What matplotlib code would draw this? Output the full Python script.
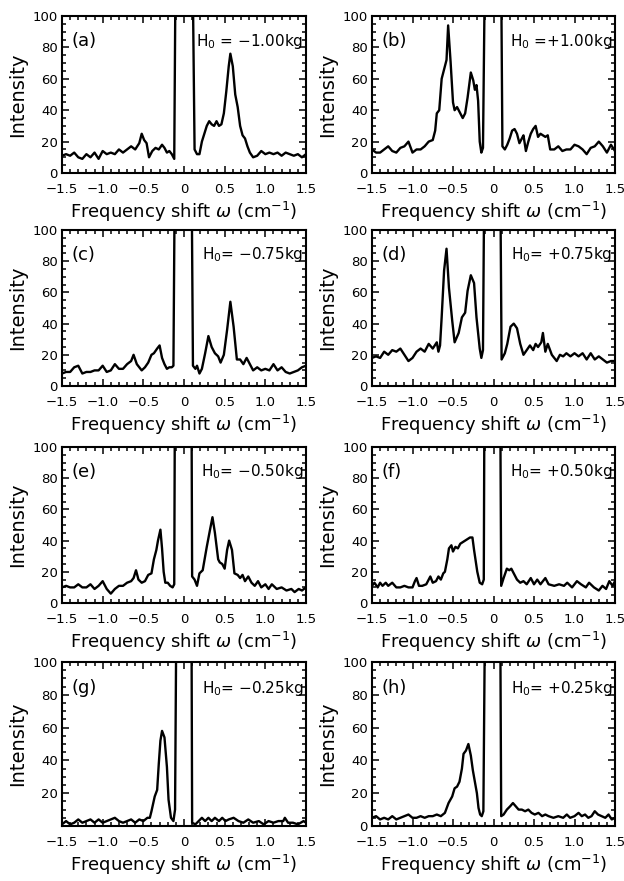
import matplotlib

matplotlib.use("Agg")
import matplotlib.pyplot as plt
from matplotlib.ticker import MultipleLocator

# frequency shift (cm^-1) and intensity; 160 marks the off-scale laser line
x_a = [-1.5, -1.45, -1.4, -1.35, -1.3, -1.25, -1.2, -1.15, -1.1, -1.05, -1.0, -0.95, -0.9, -0.85, -0.8,
       -0.75, -0.7, -0.65, -0.6, -0.55, -0.52, -0.49, -0.46, -0.43, -0.39, -0.35, -0.31, -0.27, -0.24,
       -0.21, -0.18, -0.15, -0.12, -0.10,
       0.10, 0.13, 0.16, 0.19, 0.22, 0.25, 0.28, 0.31, 0.34, 0.37, 0.40, 0.43, 0.46, 0.49, 0.52, 0.55,
       0.57, 0.60, 0.63, 0.66, 0.69, 0.72, 0.75, 0.78, 0.81, 0.85, 0.9, 0.95, 1.0, 1.05, 1.1, 1.15, 1.2,
       1.25, 1.3, 1.35, 1.4, 1.45, 1.5]
y_a = [11, 12, 11, 13, 10, 9, 12, 10, 13, 9, 14, 12, 13, 12, 15, 13, 15, 17, 15, 19, 25, 21, 19, 10, 14,
       16, 15, 18, 16, 13, 14, 12, 9, 160,
       160, 15, 12, 12, 20, 25, 30, 33, 31, 30, 33, 30, 31, 38, 52, 68, 76, 68, 50, 42, 30, 24, 22, 17,
       13, 10, 11, 14, 12, 13, 12, 13, 11, 13, 12, 11, 12, 10, 12]

x_b = [-1.5, -1.45, -1.4, -1.35, -1.3, -1.25, -1.2, -1.15, -1.1, -1.05, -1.0, -0.95, -0.9, -0.85, -0.8,
       -0.75, -0.72, -0.70, -0.67, -0.64, -0.61, -0.58, -0.56, -0.53, -0.50, -0.48, -0.45, -0.42, -0.38,
       -0.35, -0.32, -0.28, -0.25, -0.23, -0.21, -0.19, -0.17, -0.15, -0.13, -0.10,
       0.09, 0.11, 0.14, 0.17, 0.2, 0.23, 0.26, 0.29, 0.32, 0.35, 0.37, 0.40, 0.43, 0.46, 0.49, 0.52,
       0.55, 0.58, 0.61, 0.64, 0.67, 0.70, 0.75, 0.8, 0.85, 0.9, 0.95, 1.0, 1.05, 1.1, 1.15, 1.2, 1.25,
       1.3, 1.35, 1.4, 1.45, 1.5]
y_b = [15, 13, 13, 15, 17, 14, 13, 16, 17, 20, 13, 15, 15, 17, 20, 21, 27, 38, 40, 60, 66, 72, 94, 71,
       45, 40, 42, 39, 35, 38, 48, 64, 59, 53, 56, 46, 20, 13, 16, 160,
       160, 17, 15, 18, 22, 27, 28, 25, 19, 22, 24, 14, 20, 25, 28, 30, 23, 25, 24, 23, 24, 15, 15, 17,
       14, 15, 15, 18, 17, 15, 12, 16, 17, 20, 17, 13, 18, 14]

x_c = [-1.5, -1.45, -1.4, -1.35, -1.3, -1.25, -1.2, -1.15, -1.1, -1.05, -1.0, -0.95, -0.9, -0.85, -0.8,
       -0.75, -0.7, -0.65, -0.62, -0.58, -0.55, -0.52, -0.48, -0.44, -0.40, -0.37, -0.33, -0.30, -0.27,
       -0.24, -0.21, -0.18, -0.15, -0.13, -0.11,
       0.09, 0.11, 0.14, 0.16, 0.19, 0.22, 0.26, 0.30, 0.34, 0.38, 0.42, 0.45, 0.49, 0.53, 0.57, 0.61,
       0.65, 0.69, 0.73, 0.77, 0.81, 0.85, 0.9, 0.95, 1.0, 1.05, 1.1, 1.15, 1.2, 1.25, 1.3, 1.35, 1.4,
       1.45, 1.5]
y_c = [8, 9, 9, 12, 13, 8, 9, 9, 10, 10, 13, 9, 10, 14, 11, 11, 14, 16, 20, 14, 12, 10, 12, 15, 20, 21,
       24, 26, 18, 14, 11, 12, 12, 13, 160,
       160, 13, 11, 13, 8, 11, 21, 32, 25, 21, 19, 15, 20, 36, 54, 38, 17, 17, 14, 18, 14, 10, 12, 10,
       11, 10, 14, 10, 12, 9, 8, 9, 10, 12, 13]

x_d = [-1.5, -1.45, -1.4, -1.35, -1.3, -1.25, -1.2, -1.15, -1.1, -1.05, -1.0, -0.95, -0.9, -0.85, -0.8,
       -0.75, -0.7, -0.68, -0.66, -0.64, -0.61, -0.58, -0.55, -0.51, -0.48, -0.43, -0.39, -0.35, -0.32,
       -0.28, -0.24, -0.21, -0.17, -0.15, -0.13, -0.11,
       0.08, 0.10, 0.14, 0.17, 0.21, 0.25, 0.29, 0.33, 0.37, 0.41, 0.45, 0.49, 0.52, 0.55, 0.59, 0.61,
       0.64, 0.67, 0.72, 0.78, 0.82, 0.86, 0.9, 0.95, 1.0, 1.05, 1.1, 1.15, 1.2, 1.25, 1.3, 1.35, 1.4,
       1.45, 1.5]
y_d = [18, 19, 18, 22, 20, 23, 22, 24, 20, 16, 18, 22, 24, 22, 27, 24, 28, 22, 26, 44, 74, 88, 63, 42,
       28, 34, 44, 47, 61, 71, 66, 44, 24, 18, 23, 160,
       160, 17, 21, 27, 38, 40, 37, 27, 20, 23, 26, 23, 27, 25, 28, 34, 22, 27, 20, 16, 20, 19, 21, 19,
       21, 19, 21, 17, 21, 17, 19, 17, 15, 16, 16]

x_e = [-1.5, -1.45, -1.4, -1.35, -1.3, -1.25, -1.2, -1.15, -1.1, -1.05, -1.0, -0.95, -0.9, -0.85, -0.8,
       -0.75, -0.7, -0.65, -0.62, -0.59, -0.56, -0.52, -0.48, -0.44, -0.40, -0.37, -0.34, -0.32, -0.29,
       -0.27, -0.25, -0.23, -0.2, -0.17, -0.14, -0.12, -0.11,
       0.09, 0.10, 0.13, 0.16, 0.19, 0.23, 0.28, 0.32, 0.35, 0.38, 0.42, 0.44, 0.47, 0.50, 0.53, 0.555,
       0.59, 0.62, 0.66, 0.69, 0.72, 0.75, 0.79, 0.83, 0.87, 0.91, 0.95, 1.0, 1.04, 1.08, 1.14, 1.2,
       1.26, 1.32, 1.36, 1.41, 1.45, 1.5]
y_e = [10, 11, 10, 10, 12, 10, 10, 12, 9, 11, 14, 9, 6, 9, 11, 11, 13, 14, 16, 21, 15, 13, 14, 18, 19,
       28, 34, 40, 47, 35, 20, 13, 13, 11, 10, 12, 160,
       160, 17, 15, 11, 19, 21, 36, 47, 55, 45, 28, 26, 25, 22, 34, 40, 34, 19, 18, 16, 18, 14, 17, 13,
       11, 14, 10, 12, 9, 12, 9, 10, 8, 9, 7, 9, 8, 10]

x_f = [-1.5, -1.47, -1.43, -1.4, -1.37, -1.33, -1.3, -1.25, -1.2, -1.15, -1.1, -1.05, -1.0, -0.97,
       -0.95, -0.92, -0.88, -0.83, -0.78, -0.75, -0.71, -0.68, -0.65, -0.62, -0.6, -0.57, -0.55, -0.52,
       -0.5, -0.47, -0.44, -0.41, -0.38, -0.35, -0.32, -0.29, -0.26, -0.24, -0.2, -0.17, -0.14, -0.12,
       -0.11,
       0.08, 0.095, 0.125, 0.165, 0.195, 0.22, 0.25, 0.29, 0.33, 0.37, 0.41, 0.46, 0.5, 0.54, 0.58,
       0.64, 0.68, 0.75, 0.81, 0.87, 0.91, 0.97, 1.03, 1.08, 1.14, 1.18, 1.24, 1.3, 1.345, 1.39, 1.43,
       1.47, 1.5]
y_f = [11, 13, 10, 13, 11, 13, 11, 13, 10, 10, 11, 10, 10, 14, 16, 11, 11, 12, 17, 13, 14, 17, 15, 19,
       20, 28, 35, 37, 33, 36, 35, 38, 39, 40, 41, 42, 42, 34, 20, 13, 12, 15, 160,
       160, 11, 16, 22, 21, 22, 19, 15, 13, 14, 12, 16, 12, 15, 12, 16, 12, 11, 12, 11, 13, 10, 14, 12,
       10, 13, 10, 8, 11, 9, 14, 11, 14]

x_g = [-1.5, -1.45, -1.4, -1.35, -1.3, -1.25, -1.2, -1.15, -1.1, -1.05, -1.0, -0.95, -0.9, -0.85, -0.8,
       -0.75, -0.7, -0.65, -0.6, -0.55, -0.5, -0.45, -0.42, -0.40, -0.36, -0.33, -0.31, -0.29, -0.27,
       -0.24, -0.21, -0.19, -0.16, -0.13, -0.11, -0.09,
       0.09, 0.10, 0.14, 0.18, 0.22, 0.26, 0.30, 0.34, 0.38, 0.43, 0.47, 0.51, 0.55, 0.61, 0.67, 0.73,
       0.79, 0.85, 0.92, 0.98, 1.04, 1.1, 1.16, 1.22, 1.24, 1.28, 1.34, 1.4, 1.47, 1.5]
y_g = [1, 3, 1, 2, 4, 2, 3, 4, 2, 4, 2, 3, 4, 5, 3, 2, 3, 4, 2, 4, 3, 5, 5, 9, 18, 22, 38, 52, 58, 54,
       36, 16, 5, 3, 10, 160,
       160, 2, 1, 3, 5, 3, 5, 3, 5, 3, 5, 3, 4, 5, 3, 2, 4, 2, 3, 1, 3, 2, 3, 3, 5, 2, 2, 1, 3, 2]

x_h = [-1.5, -1.45, -1.4, -1.35, -1.3, -1.25, -1.2, -1.15, -1.1, -1.05, -1.0, -0.95, -0.9, -0.85, -0.8,
       -0.75, -0.7, -0.65, -0.6, -0.555, -0.51, -0.48, -0.45, -0.42, -0.39, -0.37, -0.34, -0.31, -0.28,
       -0.255, -0.23, -0.205, -0.185, -0.165, -0.145, -0.125, -0.10,
       0.08, 0.095, 0.125, 0.165, 0.205, 0.24, 0.275, 0.31, 0.35, 0.39, 0.43, 0.47, 0.51, 0.555, 0.6,
       0.64, 0.68, 0.74, 0.8, 0.86, 0.905, 0.946, 1.0, 1.05, 1.09, 1.13, 1.17, 1.21, 1.25, 1.29, 1.335,
       1.38, 1.42, 1.46, 1.5]
y_h = [5, 6, 4, 5, 4, 6, 4, 5, 6, 7, 5, 5, 6, 5, 6, 6, 7, 6, 8, 14, 18, 23, 24, 27, 35, 44, 46, 50, 43,
       34, 27, 20, 11, 7, 6, 9, 160,
       160, 6, 7, 10, 12, 14, 12, 10, 10, 9, 10, 8, 7, 8, 6, 7, 6, 5, 6, 5, 7, 5, 6, 8, 6, 7, 5, 6, 9, 7,
       6, 5, 7, 4, 5]

letters = ["a", "b", "c", "d", "e", "f", "g", "h"]
fields = ["H$_0$ = \u22121.00kg", "H$_0$ =+1.00kg", "H$_0$= \u22120.75kg", "H$_0$= +0.75kg",
          "H$_0$= \u22120.50kg", "H$_0$= +0.50kg", "H$_0$= \u22120.25kg", "H$_0$= +0.25kg"]
xs = [x_a, x_b, x_c, x_d, x_e, x_f, x_g, x_h]
ys = [y_a, y_b, y_c, y_d, y_e, y_f, y_g, y_h]

x_ticks = [-1.5, -1.0, -0.5, 0, 0.5, 1.0, 1.5]
x_ticklabels = ["\u22121.5", "\u22121.0", "\u22120.5", "0", "0.5", "1.0", "1.5"]
y_ticks = [0, 20, 40, 60, 80, 100]

W, H = 624, 881
col_px = [(62, 306), (372, 615)]
row_px = [(16, 173), (230, 386), (447, 603), (662, 826)]

fig = plt.figure(figsize=(W / 100, H / 100), dpi=100)

for i, (letter, field, x, y) in enumerate(zip(letters, fields, xs, ys)):
    l, r = col_px[i % 2]
    t, b = row_px[i // 2]
    ax = fig.add_axes([l / W, 1 - b / H, (r - l) / W, (b - t) / H])
    ax.plot(x, y, color="black", lw=1.7, solid_joinstyle="round")
    ax.set_xlim(-1.5, 1.5)
    ax.set_ylim(0, 100)

    ax.set_xticks(x_ticks)
    ax.set_xticklabels(x_ticklabels)
    ax.xaxis.set_minor_locator(MultipleLocator(0.1))
    ax.set_yticks(y_ticks)
    if letter == "g":
        ax.set_yticklabels([""] + [str(v) for v in y_ticks[1:]])
    ax.yaxis.set_minor_locator(MultipleLocator(5))
    ax.tick_params(which="both", direction="in", top=True, right=True, width=1.1, labelsize=9.5)
    ax.tick_params(axis="x", which="major", pad=7)
    ax.tick_params(axis="y", which="major", pad=3)
    ax.tick_params(which="major", length=5)
    ax.tick_params(which="minor", length=3)
    for s in ax.spines.values():
        s.set_linewidth(1.5)

    ax.set_xlabel("Frequency shift $\\omega$ (cm$^{-1}$)", fontsize=13, labelpad=3)
    ax.set_ylabel("Intensity", fontsize=14, labelpad=4)

    ax.text(-1.38, 84, f"({letter})", fontsize=13, va="center", ha="left")
    ax.text(1.47, 84, field, fontsize=11, va="center", ha="right")

fig.savefig("out.png", dpi=100)
